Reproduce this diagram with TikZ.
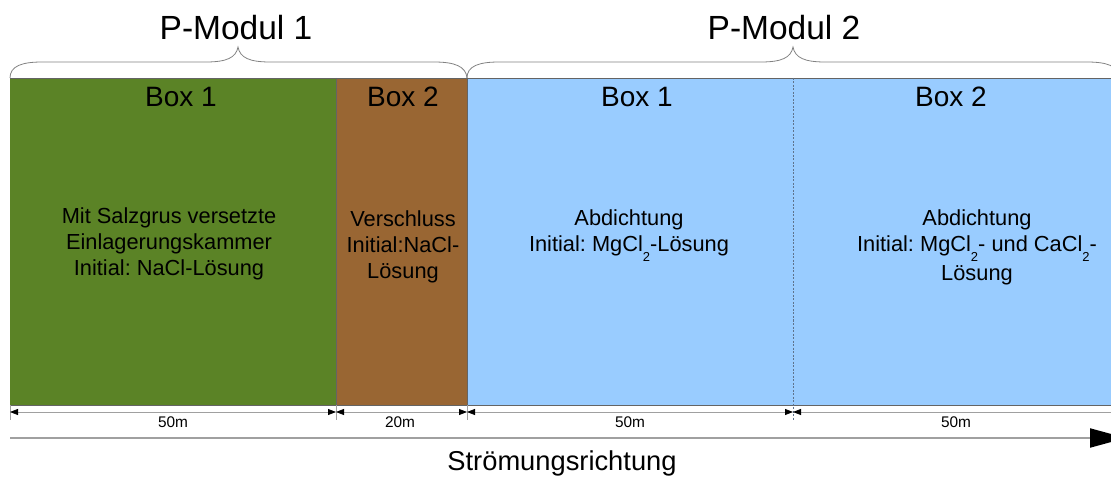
\documentclass[tikz,border=0pt]{standalone}
\usepackage{fontspec}
\setmainfont{Liberation Sans}
\usetikzlibrary{arrows.meta}
\frenchspacing

\definecolor{grasgruen}{RGB}{91,131,38}
\definecolor{lehmbraun}{RGB}{153,102,51}
\definecolor{hellblau}{RGB}{153,204,255}
\definecolor{rahmen}{RGB}{100,100,100}
\definecolor{klammer}{RGB}{130,130,130}
\definecolor{trenn}{RGB}{95,115,140}
\definecolor{pfeilgrau}{RGB}{160,160,160}

% lowered index digit, as in MgCl2
\newcommand{\idx}[1]{\raisebox{-0.42em}{\fontsize{13}{13}\selectfont #1}}

\tikzset{
  kasten/.style={anchor=north west, inner sep=0pt, outer sep=0pt,
                 minimum height=327pt},
  rand/.style={draw=rahmen, line width=0.8pt},
  titel/.style={anchor=base, inner sep=0pt, font=\fontsize{28}{32}\selectfont},
  inhalt/.style={anchor=north, inner sep=0pt, align=center,
                 font=\fontsize{21.8}{26}\selectfont},
  modul/.style={anchor=base, inner sep=0pt, font=\fontsize{33.5}{38}\selectfont},
  klammerlinie/.style={draw=klammer, line width=0.8pt},
  masslinie/.style={draw=pfeilgrau, line width=0.8pt,
                    {Triangle[length=8pt,width=6pt,color=black]}-{Triangle[length=8pt,width=6pt,color=black]}},
  strich/.style={draw=pfeilgrau, line width=0.8pt},
  masszahl/.style={anchor=base, inner sep=0pt, font=\fontsize{15.4}{18}\selectfont},
  fluss/.style={draw=pfeilgrau, line width=2pt,
                -{Triangle[length=36pt,width=19pt,color=black]}},
  trennlinie/.style={draw=trenn, line width=0.8pt, dash pattern=on 2pt off 1.5pt}
}

\begin{document}
\begin{tikzpicture}[x=1pt, y=-1pt]
\useasboundingbox (0,0) rectangle (1111,478);
\begin{scope}
\clip (0,0) rectangle (1111,478);

% the four boxes
\node[kasten, fill=grasgruen,  minimum width=326pt] (g1) at (10,78) {};
\node[kasten, fill=lehmbraun,  minimum width=131pt] (b2) at (336,78) {};
\node[kasten, fill=hellblau,   minimum width=326pt] (h1) at (467,78) {};
\node[kasten, fill=hellblau,   minimum width=326pt] (h2) at (793,78) {};

% outlines
\draw[rand] (g1.north west) -- (h2.north east);
\draw[rand] (g1.south west) -- (h2.south east);
\draw[rand] (g1.north east) -- (g1.south east);
\draw[rand] (b2.north east) -- (b2.south east);

% tick marks and the dashed divider
\coordinate (s0) at (10,420);
\coordinate (s1) at (336,420);
\coordinate (s2) at (467,420);
\coordinate (s3) at (793,420);
\coordinate (s4) at (1119,420);
\draw[strich] (g1.south west) -- (s0);
\draw[strich] (g1.south east) -- (s1);
\draw[strich] (b2.south east) -- (s2);
\draw[strich] (h2.south east) -- (s4);
\draw[trennlinie] (h1.north east) -- (s3);

% dimension lines
\coordinate (m0) at (10,412);
\coordinate (m1) at (336,412);
\coordinate (m2) at (467,412);
\coordinate (m3) at (793,412);
\coordinate (m4) at (1119,412);
\draw[masslinie] (m0) -- (m1);
\draw[masslinie] (m1) -- (m2);
\draw[masslinie] (m2) -- (m3);
\draw[masslinie] (m3) -- (m4);
\node[masszahl] (l1) at (173,427) {50m};
\node[masszahl] (l2) at (400,427) {20m};
\node[masszahl] (l3) at (630,427) {50m};
\node[masszahl] (l4) at (956,427) {50m};

% flow direction
\coordinate (f0) at (10,438);
\coordinate (f1) at (1126,438);
\draw[fluss] (f0) -- (f1);
\node[anchor=base, inner sep=0pt, font=\fontsize{27.3}{32}\selectfont] (fr) at (562,470) {Strömungsrichtung};

% braces over the modules
\draw[klammerlinie] (g1.north west)
  .. controls (10,66) and (22,62) .. (42,62) -- (206,62)
  .. controls (226,62) and (236,58) .. (238,47)
  .. controls (240,58) and (250,62) .. (270,62) -- (434,62)
  .. controls (454,62) and (466,66) .. (b2.north east);
\draw[klammerlinie] (h1.north west)
  .. controls (467,66) and (479,62) .. (499,62) -- (761,62)
  .. controls (781,62) and (791,58) .. (793,47)
  .. controls (795,58) and (805,62) .. (825,62) -- (1087,62)
  .. controls (1107,62) and (1119,66) .. (h2.north east);
\node[modul] (pm1) at (236,40) {P-Modul 1};
\node[modul] (pm2) at (784,40) {P-Modul 2};

% box titles
\node[titel] (t1) at (181,107) {Box 1};
\node[titel] (t2) at (403,107) {Box 2};
\node[titel] (t3) at (637,107) {Box 1};
\node[titel] (t4) at (951,107) {Box 2};

% box contents
\node[inhalt] (i1) at (169,208) {Mit Salzgrus versetzte\\Einlagerungskammer\\Initial: NaCl-Lösung};
\node[inhalt] (i2) at (403,211) {Verschluss\\Initial:NaCl-\\Lösung};
\node[inhalt] (i3) at (629,210) {Abdichtung\\Initial: MgCl\idx{2}-Lösung};
\node[inhalt] (i4) at (977,210) {Abdichtung\\Initial: MgCl\idx{2}- und CaCl\idx{2}-\\[3pt]Lösung};
\end{scope}
\end{tikzpicture}
\end{document}
